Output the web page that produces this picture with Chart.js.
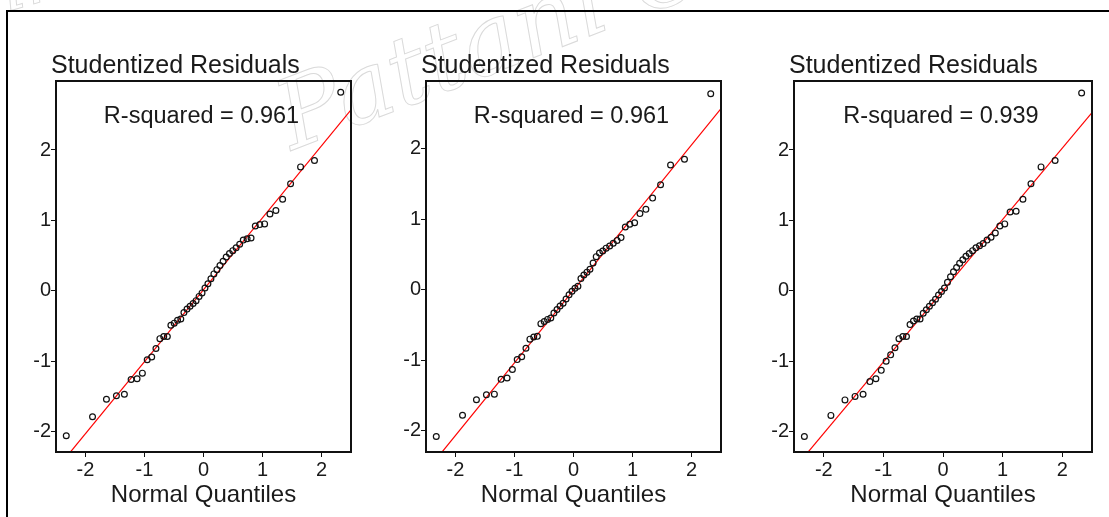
<!DOCTYPE html>
<html>
<head>
<meta charset="utf-8">
<script src="https://cdn.jsdelivr.net/npm/chart.js@4.4.1/dist/chart.umd.min.js"></script>
<style>
  html, body { margin: 0; padding: 0; background: #fff; }
  body { width: 1109px; height: 517px; position: relative; overflow: hidden; }
  .frame { position: absolute; left: 6px; top: 10px; width: 1200px; height: 600px;
           border-top: 2px solid #000; border-left: 2px solid #000; box-sizing: border-box; }
  .wm { position: absolute; font-family: "DejaVu Serif", serif; font-style: italic;
        color: transparent; -webkit-text-stroke: 1px #dadada; white-space: nowrap;
        transform-origin: left bottom; }
  canvas { position: absolute; top: 0; }
</style>
</head>
<body>
<div class="wm" style="left:-20px; top:-45px; font-size:70px; transform: rotate(-16deg);">rince</div>
<div class="wm" style="left:300px; top:60px; font-size:96px; transform: rotate(-21deg);">Pattani Ca</div>
<div class="frame"></div>
<canvas id="c1" width="370" height="517" style="left:0px"></canvas>
<canvas id="c2" width="370" height="517" style="left:370px"></canvas>
<canvas id="c3" width="370" height="517" style="left:738px"></canvas>
<script>
// ---- Data ----
const panelTitle = "Studentized Residuals";
const xAxisTitle = "Normal Quantiles";
const xTickValues = [-2, -1, 0, 1, 2];
const yTickValues = [-2, -1, 0, 1, 2];

// Normal quantiles (x positions of the 50 points)
const normalQuantiles = [
  -2.326, -1.881, -1.645, -1.476, -1.341, -1.227, -1.126, -1.036, -0.954, -0.878,
  -0.806, -0.739, -0.674, -0.613, -0.553, -0.496, -0.440, -0.385, -0.332, -0.279,
  -0.228, -0.176, -0.126, -0.075, -0.025, 0.025, 0.075, 0.126, 0.176, 0.228,
  0.279, 0.332, 0.385, 0.440, 0.496, 0.553, 0.613, 0.674, 0.739, 0.806,
  0.878, 0.954, 1.036, 1.126, 1.227, 1.341, 1.476, 1.645, 1.881, 2.326
];

const residuals1 = [
  -2.06, -1.79, -1.54, -1.49, -1.47, -1.26, -1.25, -1.17, -0.98, -0.94,
  -0.82, -0.68, -0.65, -0.65, -0.49, -0.46, -0.42, -0.40, -0.31, -0.26,
  -0.22, -0.18, -0.14, -0.08, -0.03, 0.04, 0.10, 0.17, 0.24, 0.30,
  0.36, 0.42, 0.48, 0.53, 0.57, 0.61, 0.66, 0.72, 0.74, 0.75,
  0.92, 0.94, 0.95, 1.09, 1.14, 1.30, 1.52, 1.76, 1.85, 2.82
];
const residuals2 = [
  -2.08, -1.78, -1.56, -1.49, -1.48, -1.27, -1.25, -1.13, -0.99, -0.95,
  -0.83, -0.70, -0.67, -0.66, -0.48, -0.45, -0.42, -0.40, -0.33, -0.28,
  -0.23, -0.19, -0.13, -0.07, -0.02, 0.02, 0.05, 0.16, 0.21, 0.25,
  0.29, 0.38, 0.47, 0.52, 0.55, 0.59, 0.62, 0.66, 0.70, 0.74,
  0.89, 0.93, 0.95, 1.08, 1.14, 1.30, 1.49, 1.77, 1.85, 2.78
];
const residuals3 = [
  -2.07, -1.77, -1.55, -1.50, -1.47, -1.29, -1.25, -1.13, -1.00, -0.91,
  -0.81, -0.68, -0.65, -0.65, -0.48, -0.43, -0.40, -0.40, -0.32, -0.27,
  -0.22, -0.17, -0.12, -0.06, -0.01, 0.04, 0.12, 0.20, 0.27, 0.33,
  0.39, 0.44, 0.49, 0.53, 0.57, 0.61, 0.64, 0.67, 0.72, 0.76,
  0.82, 0.92, 0.95, 1.12, 1.13, 1.30, 1.52, 1.76, 1.85, 2.81
];

// Reference line end points (x at the axis ends, y)
const fitLineX = [-2.5, 2.5];
const fitLineY1 = [-2.54, 2.57];
const fitLineY2 = [-2.58, 2.57];
const fitLineY3 = [-2.53, 2.53];

const rSquared = ["R-squared = 0.961", "R-squared = 0.961", "R-squared = 0.939"];
const yRanges = [[-2.29, 2.98], [-2.30, 2.96], [-2.29, 2.98]];
const xRange = [-2.5, 2.5];

// ---- Chart construction ----
const FONT = '"Liberation Sans", Arial, Helvetica, sans-serif';
Chart.defaults.font.family = FONT;
Chart.defaults.color = '#1a1a1a';

const annotatePlugin = {
  id: 'annotate',
  afterDraw(chart) {
    const { ctx, chartArea: a } = chart;
    const o = chart.options.plugins.annotate;
    ctx.save();
    ctx.strokeStyle = '#111';
    ctx.lineWidth = 2;
    ctx.strokeRect(a.left, a.top, a.right - a.left, a.bottom - a.top);
    ctx.fillStyle = '#1a1a1a';
    ctx.textBaseline = 'alphabetic';
    ctx.font = '25px ' + FONT;
    ctx.textAlign = 'left';
    ctx.fillText(o.title, a.left - 5, a.top - 8.5);
    ctx.font = '23.5px ' + FONT;
    ctx.textAlign = 'center';
    ctx.fillText(o.rsq, (a.left + a.right) / 2 - 2, a.top + 41.7);
    ctx.restore();
  }
};

function makePanel(id, residuals, fitY, rsq, yRange, padRight) {
  const pts = normalQuantiles.map((q, i) => ({ x: q, y: residuals[i] }));
  const line = fitLineX.map((x, i) => ({ x: x, y: fitY[i] }));
  new Chart(document.getElementById(id), {
    type: 'scatter',
    data: {
      datasets: [
        {
          data: line, showLine: true, borderColor: '#ff0000', borderWidth: 1.2,
          pointRadius: 0, fill: false, clip: 0, order: 2
        },
        {
          data: pts, pointStyle: 'circle', pointRadius: 2.9, pointBorderWidth: 1.2,
          pointBorderColor: '#111', pointBackgroundColor: 'rgba(0,0,0,0)',
          borderColor: '#111', backgroundColor: 'rgba(0,0,0,0)', order: 1
        }
      ]
    },
    options: {
      responsive: false,
      animation: false,
      events: [],
      layout: { padding: { left: 0, right: padRight, top: 81, bottom: 0 } },
      plugins: {
        legend: { display: false },
        tooltip: { enabled: false },
        annotate: { title: panelTitle, rsq: rsq }
      },
      scales: {
        x: {
          type: 'linear', position: 'bottom', min: xRange[0], max: xRange[1],
          afterBuildTicks: s => { s.ticks = xTickValues.map(v => ({ value: v })); },
          afterFit: s => { s.height = 65; },
          ticks: { font: { size: 20 }, color: '#1a1a1a', padding: 1, maxRotation: 0 },
          grid: { drawOnChartArea: false, drawTicks: true, tickLength: 5, tickColor: '#111', lineWidth: 1 },
          border: { display: false },
          title: { display: true, text: xAxisTitle, font: { size: 24 }, color: '#1a1a1a',
                   padding: { top: 0, bottom: 7 } }
        },
        y: {
          type: 'linear', position: 'left', min: yRange[0], max: yRange[1],
          afterBuildTicks: s => { s.ticks = yTickValues.map(v => ({ value: v })); },
          afterFit: s => { s.width = 56; },
          ticks: { font: { size: 20 }, color: '#1a1a1a', padding: 0 },
          grid: { drawOnChartArea: false, drawTicks: true, tickLength: 5, tickColor: '#111', lineWidth: 1 },
          border: { display: false }
        }
      }
    },
    plugins: [annotatePlugin]
  });
}

makePanel('c1', residuals1, fitLineY1, rSquared[0], yRanges[0], 19);
makePanel('c2', residuals2, fitLineY2, rSquared[1], yRanges[1], 19);
makePanel('c3', residuals3, fitLineY3, rSquared[2], yRanges[2], 16);
</script>
</body>
</html>
